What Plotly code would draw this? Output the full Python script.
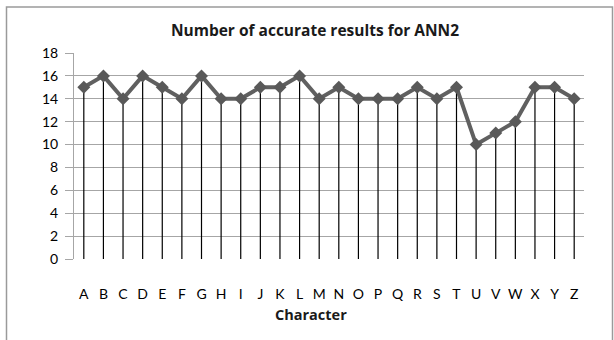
import plotly.graph_objects as go

characters = list("ABCDEFGHIJKLMNOPQRSTUVWXYZ")
accurate = [15, 16, 14, 16, 15, 14, 16, 14, 14, 15, 15, 16, 14,
            15, 14, 14, 14, 15, 14, 15, 10, 11, 12, 15, 15, 14]
y_ticks = list(range(0, 19, 2))

FONT = "Lato"
TITLE_FONT = "Open Sans"

fig = go.Figure()

# drop lines from each point down to zero
fig.add_trace(go.Scatter(
    x=characters, y=accurate, mode="markers",
    marker=dict(size=1, color="rgba(0,0,0,0)"),
    error_y=dict(type="data", symmetric=False, array=[0] * len(accurate),
                 arrayminus=accurate, color="black", thickness=1.2, width=0),
    hoverinfo="skip", showlegend=False,
))

# main series
fig.add_trace(go.Scatter(
    x=characters, y=accurate, mode="lines+markers",
    line=dict(color="#606060", width=4),
    marker=dict(symbol="diamond", size=10, color="#595959"),
    showlegend=False,
))

fig.update_layout(
    width=614, height=340,
    margin=dict(l=74, r=30, t=53, b=81),
    paper_bgcolor="white", plot_bgcolor="white",
    font=dict(family=FONT, size=14, color="black"),
    title=dict(text="<b>Number of accurate results for ANN2</b>", x=0.513, xref="container",
               y=0.91, yref="container", xanchor="center", yanchor="middle",
               font=dict(family=TITLE_FONT, size=15.5, color="#1a1a1a")),
    annotations=[dict(text="<b>Character</b>", xref="paper", yref="paper",
                      x=(311 - 74) / 510, y=-55 / 206, xanchor="center", yanchor="middle",
                      showarrow=False,
                      font=dict(family=TITLE_FONT, size=14.5, color="#1a1a1a"))],
    shapes=[dict(type="rect", xref="paper", yref="paper",
                 x0=-67.5 / 510, x1=1 + 28.5 / 510, y0=-90 / 206, y1=1 + 46 / 206,
                 line=dict(color="#9a9a9a", width=1.5))],
)

fig.update_xaxes(
    type="category", range=[-0.5, len(characters) - 0.5],
    showgrid=False, showline=False, zeroline=False, ticks="",
    ticklabelstandoff=25,
    tickfont=dict(family=FONT, size=14),
)

fig.update_yaxes(
    range=[0, 18], tickvals=y_ticks,
    showgrid=True, gridcolor="#a6a6a6", gridwidth=1,
    showline=True, linecolor="#a6a6a6", linewidth=1,
    zeroline=False, ticks="outside", ticklen=8, tickcolor="#a6a6a6",
    ticklabelstandoff=4,
    tickfont=dict(family=FONT, size=14),
)

fig.write_html("out.html")
